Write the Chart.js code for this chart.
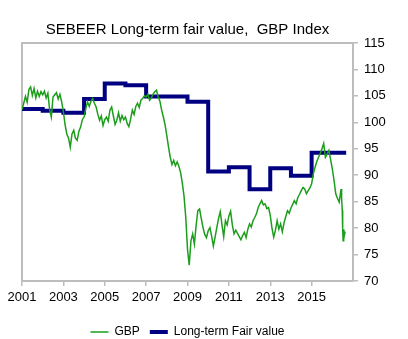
<!DOCTYPE html>
<html>
<head>
<meta charset="utf-8">
<script src="https://cdn.jsdelivr.net/npm/chart.js@4"></script>
<style>
  html, body { margin: 0; padding: 0; background: #fff; }
</style>
</head>
<body>
<canvas id="gbpChart" width="408" height="339"></canvas>
<script>
// GBP index, one value per month from Jan 2001
const gbpStartYear = 2001;
const gbpMonthly = [
  102.4, 103.6, 104.9, 103.8, 106.2, 106.7, 105.1, 106.4, 104.6, 105.9, 104.9, 105.8, // 2001
  105.2, 105.9, 104.6, 105.5, 102.5, 101.0, 104.8, 105.2, 105.6, 104.4, 105.3, 103.9, // 2002
  102.0, 99.5, 97.8, 97.0, 95.3, 97.8, 98.5, 97.0, 96.6, 98.3, 99.1, 100.5,           // 2003
  101.0, 102.6, 103.9, 103.0, 104.0, 104.5, 103.6, 102.9, 101.5, 100.4, 101.2, 99.4,  // 2004
  100.5, 101.0, 100.2, 102.3, 102.9, 101.2, 99.6, 100.4, 101.8, 100.2, 101.3, 100.5,  // 2005
  101.0, 99.8, 99.2, 100.6, 102.3, 101.5, 103.0, 103.6, 102.8, 104.2, 104.5, 105.0,   // 2006
  104.8, 105.3, 104.2, 104.6, 105.3, 105.8, 106.1, 104.8, 104.0, 102.3, 101.0, 99.5,  // 2007
  97.5, 95.3, 93.4, 92.0, 92.8, 91.8, 92.5, 91.7, 90.5, 88.5, 86.0, 82.0,             // 2008
  76.0, 73.0, 77.6, 78.9, 77.0, 80.5, 83.3, 83.6, 81.8, 80.1, 78.8, 78.2,             // 2009
  79.5, 80.1, 78.5, 76.6, 78.3, 80.1, 81.8, 83.1, 80.6, 78.4, 81.4, 80.6,             // 2010
  82.3, 83.2, 80.6, 78.9, 79.6, 79.0, 78.4, 77.8, 78.6, 79.2, 78.2, 79.8,             // 2011
  80.8, 80.2, 81.4, 82.0, 82.7, 83.9, 84.6, 85.2, 84.4, 84.6, 83.7, 83.9,             // 2012
  82.4, 80.0, 78.3, 79.6, 81.4, 79.8, 80.8, 79.3, 81.0, 82.2, 83.3, 82.8,             // 2013
  83.8, 84.5, 85.2, 84.6, 85.8, 86.4, 87.1, 87.7, 87.4, 86.5, 87.1, 87.6,             // 2014
  88.4, 90.3, 91.5, 92.6, 93.4, 94.1, 95.0, 96.0, 93.4, 94.0, 94.7, 93.0,             // 2015
  91.2, 89.0, 86.5, 85.6, 84.9                                                        // 2016
];
// the drop in June 2016, sampled more finely
const gbpTailDates = [2016.38, 2016.42, 2016.45, 2016.48, 2016.50, 2016.52, 2016.55, 2016.58, 2016.62];
const gbpTailValues = [86.2, 87.4, 85.6, 83.4, 80.0, 77.6, 79.8, 78.6, 79.4];

// long-term fair value, held from each date to the next
const fairDates = [2001, 2002, 2003, 2004, 2005, 2006, 2007, 2008, 2009, 2010, 2011, 2012, 2013, 2014, 2015, 2016, 2016.67];
const fairValues = [102.5, 102.2, 101.8, 104.4, 107.35, 107.0, 104.9, 104.9, 103.9, 90.7, 91.5, 87.35, 91.3, 89.9, 94.25, 94.25, 94.25];

const xTickYears = [2001, 2003, 2005, 2007, 2009, 2011, 2013, 2015];
const xTickLabels = ['2001', '2003', '2005', '2007', '2009', '2011', '2013', '2015'];

const gbpPoints = gbpMonthly.map((v, i) => ({ x: gbpStartYear + i / 12, y: v }))
  .concat(gbpTailDates.map((d, i) => ({ x: d, y: gbpTailValues[i] })));
const fairPoints = fairDates.map((d, i) => ({ x: d, y: fairValues[i] }));

const axisGrey = '#bdbdbd';
const plain = "'Liberation Sans', Arial, sans-serif";

// grey frame on the left and top of the plot area
const plotFrame = {
  id: 'plotFrame',
  beforeDatasetsDraw(chart) {
    const { ctx, chartArea: a } = chart;
    ctx.save();
    ctx.strokeStyle = axisGrey;
    ctx.lineWidth = 2;
    ctx.beginPath();
    ctx.moveTo(a.left, a.bottom);
    ctx.lineTo(a.left, a.top);
    ctx.lineTo(a.right, a.top);
    ctx.stroke();
    ctx.restore();
  }
};

new Chart(document.getElementById('gbpChart'), {
  type: 'line',
  data: {
    datasets: [
      {
        label: 'GBP',
        data: gbpPoints,
        borderColor: '#1c9e1c',
        borderWidth: 1.5,
        pointRadius: 0,
        pointStyle: 'line',
        tension: 0
      },
      {
        label: 'Long-term Fair value',
        data: fairPoints,
        borderColor: '#000080',
        borderWidth: 4,
        stepped: true,
        borderJoinStyle: 'miter',
        pointRadius: 0,
        pointStyle: 'line'
      }
    ]
  },
  options: {
    responsive: false,
    animation: false,
    devicePixelRatio: 1,
    layout: { padding: { left: 22, right: 0, top: 0, bottom: -9 } },
    plugins: {
      title: {
        display: true,
        text: 'SEBEER Long-term fair value,  GBP Index',
        fullSize: false,
        color: '#000',
        font: { family: plain, size: 15, weight: 'normal' },
        padding: { top: 21, bottom: 4 }
      },
      legend: {
        position: 'bottom',
        fullSize: false,
        labels: {
          usePointStyle: true,
          pointStyle: 'line',
          pointStyleWidth: 18,
          color: '#000',
          font: { family: plain, size: 12 },
          padding: 10
        }
      },
      tooltip: { enabled: false }
    },
    scales: {
      x: {
        type: 'linear',
        min: 2001,
        max: 2017,
        afterBuildTicks: (s) => { s.ticks = xTickYears.map((v) => ({ value: v })); },
        afterFit: (s) => { s.height = 35; },
        ticks: {
          callback: (v, i) => xTickLabels[i],
          color: '#000',
          font: { family: plain, size: 13 },
          padding: 4,
          maxRotation: 0,
          autoSkip: false
        },
        grid: { drawOnChartArea: false, tickLength: 5, color: axisGrey, lineWidth: 1.5 },
        border: { color: axisGrey, width: 2 }
      },
      y: {
        position: 'right',
        min: 70,
        max: 115,
        afterFit: (s) => { s.width = 55; },
        ticks: {
          stepSize: 5,
          color: '#000',
          font: { family: plain, size: 13 },
          padding: 6
        },
        grid: { drawOnChartArea: false, tickLength: 5, color: axisGrey, lineWidth: 1.5 },
        border: { color: axisGrey, width: 2 }
      }
    }
  },
  plugins: [plotFrame]
});
</script>
</body>
</html>
